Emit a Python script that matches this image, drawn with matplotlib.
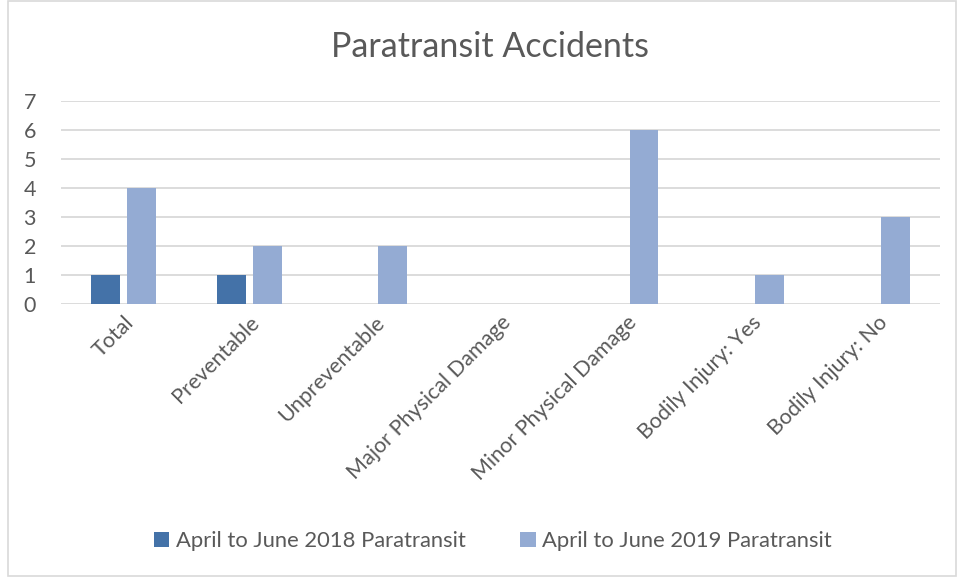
import matplotlib.pyplot as plt
import numpy as np
from matplotlib.patches import Rectangle

categories = ["Total", "Preventable", "Unpreventable", "Major Physical Damage",
              "Minor Physical Damage", "Bodily Injury: Yes", "Bodily Injury: No"]
vals_2018 = [1, 1, 0, 0, 0, 0, 0]
vals_2019 = [4, 2, 2, 0, 6, 1, 3]
series_names = ["April to June 2018 Paratransit", "April to June 2019 Paratransit"]

plt.rcParams["font.family"] = ["Lato", "DejaVu Sans"]

fig = plt.figure(figsize=(9.58, 5.77), dpi=100)
ax = fig.add_axes([61 / 958, 1 - 304 / 577, (940 - 61) / 958, (304 - 101) / 577])

x = np.arange(len(categories))
w = 0.23
ax.bar(x - 0.143, vals_2018, width=w, color="#4472a8", label=series_names[0], zorder=3)
ax.bar(x + 0.143, vals_2019, width=w, color="#94abd3", label=series_names[1], zorder=3)

ax.set_xlim(-0.5, len(categories) - 0.5)
ax.set_ylim(0, 7)
ax.set_yticks(range(8))
ax.yaxis.grid(True, color="#d9d9d9", linewidth=1.3, zorder=0)
for s in ax.spines.values():
    s.set_visible(False)
ax.tick_params(axis="both", length=0, colors="#595959", labelsize=15.5)
ax.tick_params(axis="y", pad=18)
ax.set_xticks(x)
ax.set_xticklabels(categories, rotation=45, ha="right", va="top",
                   rotation_mode="anchor", color="#595959")
ax.tick_params(axis="x", pad=6)

fig.text(490 / 958, 1 - 47 / 577, "Paratransit Accidents", ha="center", va="center",
         fontsize=24.5, color="#595959")

fig.legend(loc="center", bbox_to_anchor=(493 / 958, 1 - 541 / 577), ncol=2, frameon=False,
           fontsize=15.8, handlelength=0.7, handleheight=0.7, columnspacing=2.5,
           handletextpad=0.3, labelcolor="#595959")

fig.patches.append(Rectangle((8 / 958, 0.002), 1 - 10 / 958, 0.996, transform=fig.transFigure,
                             fill=False, edgecolor="#d9d9d9", linewidth=1.2))

plt.savefig("out.png", dpi=100)
